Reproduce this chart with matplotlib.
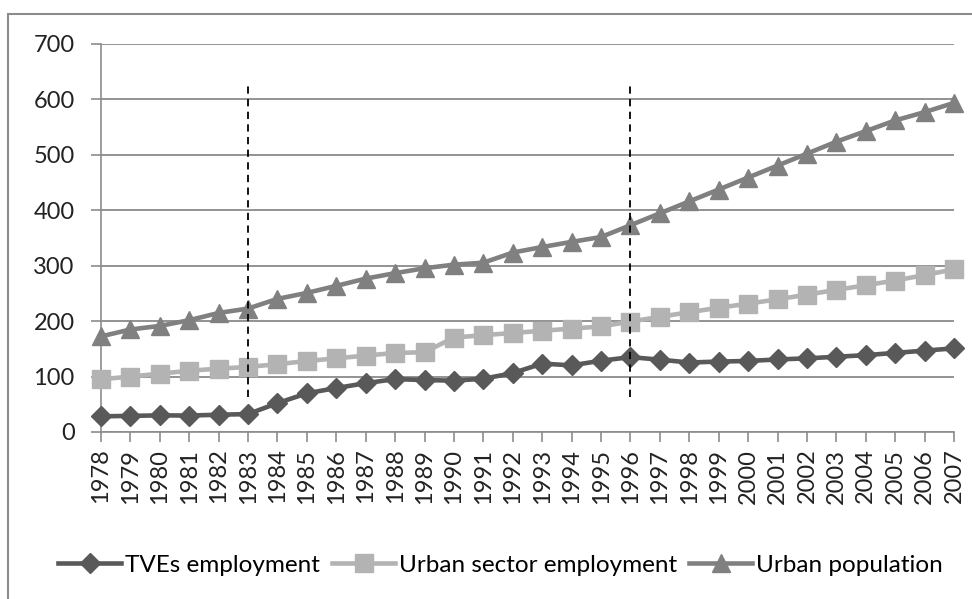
import numpy as np
import matplotlib.pyplot as plt
from matplotlib.patches import Rectangle

years = list(range(1978, 2008))

tve_employment = [28.27, 29.09, 30.00, 29.70, 31.13, 32.35, 52.08, 69.79, 79.37, 88.05,
                  95.45, 93.67, 92.65, 96.09, 106.25, 123.45, 120.18, 128.62, 135.08, 130.50,
                  125.37, 127.04, 128.20, 130.86, 132.88, 135.73, 138.66, 142.72, 146.80, 150.90]

urban_employment = [95.14, 99.99, 105.25, 110.53, 114.28, 117.46, 122.29, 128.08, 132.93, 137.83,
                    142.67, 143.90, 170.41, 174.65, 178.61, 182.62, 186.53, 190.40, 199.22, 207.81,
                    216.16, 224.12, 231.51, 239.40, 247.80, 256.39, 264.76, 273.31, 283.10, 293.50]

urban_population = [172.45, 184.95, 191.40, 201.71, 214.80, 222.74, 240.17, 250.94, 263.66, 276.74,
                    286.61, 295.40, 301.95, 305.43, 323.75, 333.73, 343.01, 351.74, 373.04, 394.49,
                    416.08, 437.48, 459.06, 480.64, 502.12, 523.76, 542.83, 562.12, 577.06, 593.79]

break_years = [1983, 1996]
break_range = (63, 628)

plt.rcParams['font.family'] = ['Lato', 'DejaVu Sans']

fig = plt.figure(figsize=(9.72, 5.99), dpi=100)
fig.patches.append(Rectangle((8 / 972, -0.1), 1.2, 1 - 14 / 599 + 0.1,
                             transform=fig.transFigure, fill=False,
                             edgecolor='#8c8c8c', linewidth=1.5))

ax = fig.add_axes([101 / 972, 1 - 432 / 599, (954 - 101) / 972, (432 - 44) / 599])
ax.set_xlim(1978, 2007)
ax.set_ylim(0, 700)
ax.set_yticks(range(0, 701, 100))
ax.set_xticks(years)
ax.set_xticklabels([str(y) for y in years], rotation=90)
ax.tick_params(axis='both', labelsize=17, colors='#8c8c8c', labelcolor='#222222',
               length=7, width=1.2)
ax.tick_params(axis='x', pad=5)
ax.tick_params(axis='y', pad=12)
ax.grid(axis='y', color='#808080', linewidth=1.2)
ax.set_axisbelow(True)
for side in ['top', 'right']:
    ax.spines[side].set_visible(False)
for side in ['left', 'bottom']:
    ax.spines[side].set_color('#8c8c8c')
    ax.spines[side].set_linewidth(1.2)

ax.plot(years, tve_employment, color='#595959', lw=3.3, marker='D', ms=10,
        label='TVEs employment', clip_on=False, zorder=5)
ax.plot(years, urban_employment, color='#b3b3b3', lw=3.3, marker='s', ms=13,
        label='Urban sector employment', clip_on=False, zorder=4)
ax.plot(years, urban_population, color='#808080', lw=3.3, marker='^', ms=13,
        label='Urban population', clip_on=False, zorder=4)

for yr in break_years:
    ax.plot([yr, yr], break_range, color='black', lw=1.3, ls=(0, (4, 3)), zorder=6)

ax.legend(loc='center', bbox_to_anchor=(0.515, 1 - 565 / 599), bbox_transform=fig.transFigure,
          ncol=3, frameon=False, fontsize=17.5, handlelength=2.6, columnspacing=0.5,
          handletextpad=0.15, borderaxespad=0)

fig.savefig('out.png', dpi=100)
